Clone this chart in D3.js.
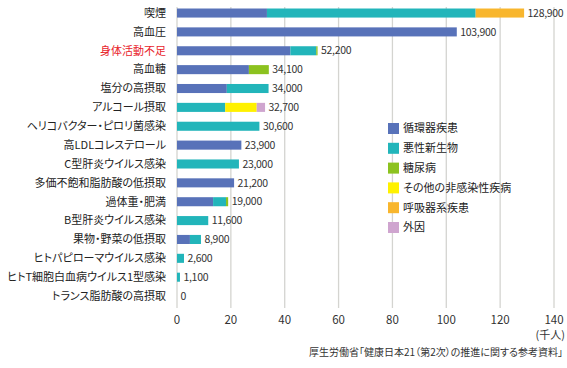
<!DOCTYPE html>
<html><head><meta charset="utf-8">
<script src="https://cdn.jsdelivr.net/npm/d3@7"></script>
<style>
body{margin:0;background:#fff;}
svg{display:block;font-family:"Noto Sans CJK JP","Noto Sans",sans-serif;}
.pal{font-feature-settings:"palt" 1;}
</style></head>
<body><svg id="c" width="567" height="368"></svg>
<script>
const categories = ["喫煙","高血圧","身体活動不足","高血糖","塩分の高摂取","アルコール摂取","ヘリコバクター・ピロリ菌感染","高LDLコレステロール","C型肝炎ウイルス感染","多価不飽和脂肪酸の低摂取","過体重・肥満","B型肝炎ウイルス感染","果物・野菜の低摂取","ヒトパピローマウイルス感染","ヒトT細胞白血病ウイルス1型感染","トランス脂肪酸の高摂取"];
const seriesNames = ["循環器疾患","悪性新生物","糖尿病","その他の非感染性疾病","呼吸器系疾患","外因"];
const circulatory = [33.4,103.9,42.1,26.7,18.5,0,0,23.9,0,21.2,13.4,0,4.8,0,0,0];
const cancer      = [77.5,0,9.6,0,15.5,17.9,30.6,0,23.0,0,4.8,11.6,4.1,2.6,1.1,0];
const diabetes    = [0,0,0.5,7.4,0,0,0,0,0,0,0.8,0,0,0,0,0];
const otherNCD    = [0,0,0,0,0,11.7,0,0,0,0,0,0,0,0,0,0];
const respiratory = [18.0,0,0,0,0,0,0,0,0,0,0,0,0,0,0,0];
const external    = [0,0,0,0,0,3.1,0,0,0,0,0,0,0,0,0,0];
const totals = ["128,900","103,900","52,200","34,100","34,000","32,700","30,600","23,900","23,000","21,200","19,000","11,600","8,900","2,600","1,100","0"];
const xTicks = [0,20,40,60,80,100,120,140];
const colors = ["#5872b9","#22b5ba","#8cc21f","#fff100","#f8b62d","#cfa5cf"];

const svg = d3.select("#c");
const x = d3.scaleLinear().domain([0,140]).range([177,554]);
const y = d3.scaleBand().domain(categories).range([3.6,305.5]).paddingInner(0.52).paddingOuter(0.26);

// gridlines
svg.append("g").selectAll("line").data(xTicks).join("line")
  .attr("x1",d=>x(d)).attr("x2",d=>x(d)).attr("y1",7).attr("y2",308)
  .attr("stroke","#d4d4d0").attr("stroke-width",1.3);

// tick labels
svg.append("g").selectAll("text").data(xTicks).join("text")
  .attr("x",d=>x(d)).attr("y",324).attr("text-anchor","middle")
  .attr("font-size",11.5).attr("fill","#333").text(d=>d);
svg.append("text").attr("x",565).attr("y",339).attr("text-anchor","end").attr("class","pal")
  .attr("font-size",11).attr("fill","#333").text("(千人)");

// stacked data
const rows = categories.map((c,i)=>({cat:c, v:[circulatory[i],cancer[i],diabetes[i],otherNCD[i],respiratory[i],external[i]]}));
const keys = d3.range(6);
const stack = d3.stack().keys(keys).value((d,k)=>d.v[k]);
const layers = stack(rows);

svg.append("g").selectAll("g").data(layers).join("g")
  .attr("fill",(d,i)=>colors[i])
  .selectAll("rect").data(d=>d.filter(s=>s[1]-s[0]>0)).join("rect")
  .attr("x",d=>x(d[0])).attr("width",d=>x(d[1])-x(d[0]))
  .attr("y",d=>y(d.data.cat)).attr("height",y.bandwidth());

// category labels
svg.append("g").attr("class","pal").selectAll("text").data(categories).join("text")
  .attr("x",166).attr("y",d=>y(d)+y.bandwidth()/2).attr("dy","0.35em")
  .attr("text-anchor","end").attr("font-size",11)
  .attr("fill",d=>d==="身体活動不足"?"#e8232b":"#222").text(d=>d);

// value labels
svg.append("g").selectAll("text").data(rows).join("text")
  .attr("x",(d,i)=>x(d3.sum(d.v))+3.5).attr("y",d=>y(d.cat)+y.bandwidth()/2).attr("dy","0.35em")
  .attr("font-size",10.5).attr("fill","#333").attr("letter-spacing","-0.3")
  .text((d,i)=>totals[i]);

// legend
const lg = svg.append("g").attr("class","pal");
seriesNames.forEach((n,i)=>{
  lg.append("rect").attr("x",388).attr("y",123+i*19.8).attr("width",11).attr("height",11).attr("fill",colors[i]);
  lg.append("text").attr("x",403).attr("y",128.5+i*19.8).attr("dy","0.35em").attr("font-size",11).attr("fill","#222").text(n);
});

// source
svg.append("text").attr("x",563).attr("y",356).attr("text-anchor","end").attr("class","pal")
  .attr("font-size",10).attr("fill","#333").text("厚生労働省「健康日本21（第2次）の推進に関する参考資料」");
</script></body></html>
